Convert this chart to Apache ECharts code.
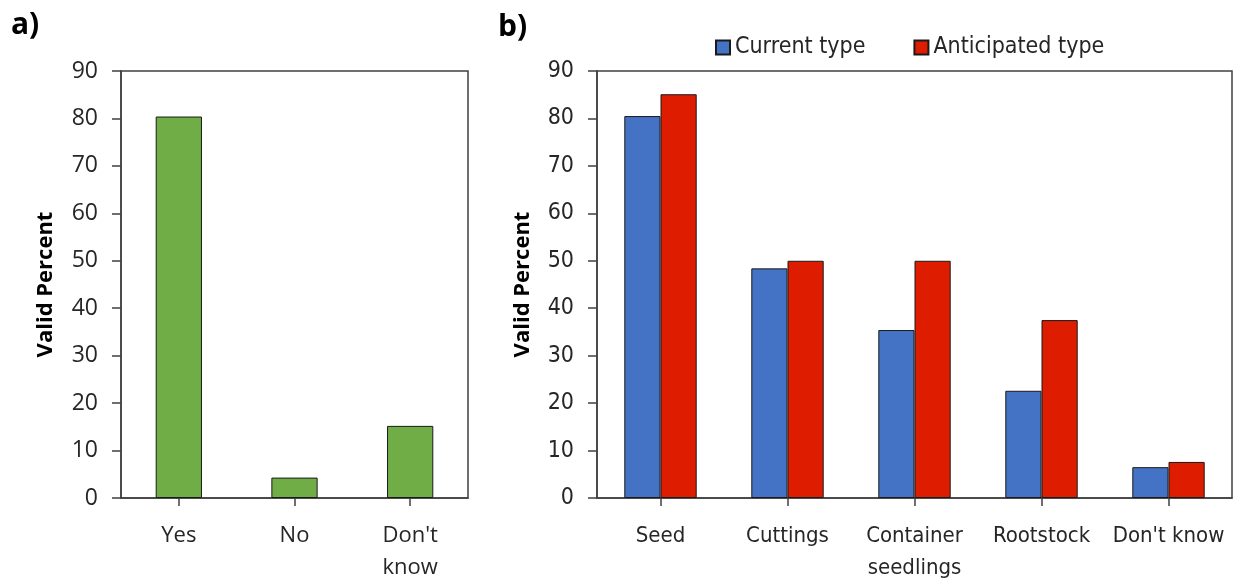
<!DOCTYPE html>
<html><head><meta charset="utf-8">
<script src="https://cdn.jsdelivr.net/npm/echarts@6/dist/echarts.min.js"></script>
<style>html,body{margin:0;padding:0;background:#fff}#c{width:1241px;height:584px}</style>
</head><body><div id="c"></div>
<script>
const catsA = ['Yes', 'No', "Don't\nknow"];
const valsA = [80.4, 4.3, 15.2];
const catsB = ['Seed', 'Cuttings', 'Container\nseedlings', 'Rootstock', "Don't know"];
const currentType = [80.5, 48.4, 35.4, 22.6, 6.5];
const anticipatedType = [85.1, 50.0, 50.0, 37.5, 7.6];
const seriesNames = ['Current type', 'Anticipated type'];
const yTicks = [0, 90, 10];

const chart = echarts.init(document.getElementById('c'));
const F = 'Open Sans, Noto Sans, sans-serif';
const FN = 'Liberation Sans Narrow, DejaVu Sans Condensed, Open Sans, sans-serif';
const txt = '#262626';
const axisCol = '#404040';
function yAxis(gi, gap, font) {
  return {
    gridIndex: gi, type: 'value', min: yTicks[0], max: yTicks[1], interval: yTicks[2],
    name: 'Valid Percent', nameLocation: 'middle', nameGap: gap, nameRotate: 90,
    nameTextStyle: {fontFamily: F, fontWeight: 'bold', fontSize: 22, color: '#000'},
    axisLine: {show: true, lineStyle: {color: axisCol, width: 1.5}},
    axisTick: {show: true, inside: false, length: 9, lineStyle: {color: axisCol, width: 1.5}},
    axisLabel: {fontFamily: font, fontSize: 23, color: txt, margin: 23},
    splitLine: {show: false}
  };
}
function xAxis(gi, data, font, lh) {
  return {
    gridIndex: gi, type: 'category', data: data,
    axisLine: {show: true, lineStyle: {color: axisCol, width: 1.5}},
    axisTick: {show: true, alignWithLabel: true, length: 8, lineStyle: {color: axisCol, width: 1.5}},
    axisLabel: {fontFamily: font, fontSize: 22, color: txt, margin: 22, lineHeight: lh, interval: 0}
  };
}
chart.setOption({
  animation: false,
  graphic: [
    {type: 'text', left: 11, top: 10, style: {text: 'a)', font: 'bold 30px ' + F, fill: '#000'}},
    {type: 'text', left: 498, top: 12, style: {text: 'b)', font: 'bold 30px ' + F, fill: '#000'}}
  ],
  legend: {
    data: seriesNames, left: 710, top: 31, itemWidth: 14, itemHeight: 14, itemGap: 48,
    icon: 'rect',
    textStyle: {fontFamily: FN, fontSize: 23, color: txt, padding: [0, 0, 0, 0]}
  },
  grid: [
    {left: 121, right: 773, top: 71, bottom: 83, show: true, borderColor: axisCol, borderWidth: 1.5, backgroundColor: 'transparent'},
    {left: 597, right: 9, top: 71, bottom: 80, show: true, borderColor: axisCol, borderWidth: 1.5, backgroundColor: 'transparent'}
  ],
  xAxis: [xAxis(0, catsA, F, 32), xAxis(1, catsB, FN, 32)],
  yAxis: [yAxis(0, 64, F), yAxis(1, 63, FN)],
  series: [
    {type: 'bar', xAxisIndex: 0, yAxisIndex: 0, data: valsA, barCategoryGap: '60%',
     itemStyle: {color: '#70AD47', borderColor: '#1a1a1a', borderWidth: 1}},
    {name: seriesNames[0], type: 'bar', xAxisIndex: 1, yAxisIndex: 1, data: currentType,
     barCategoryGap: '43%', barGap: '0%',
     itemStyle: {color: '#4472C4', borderColor: '#1a1a1a', borderWidth: 1}},
    {name: seriesNames[1], type: 'bar', xAxisIndex: 1, yAxisIndex: 1, data: anticipatedType,
     barCategoryGap: '43%', barGap: '0%',
     itemStyle: {color: '#DD1C00', borderColor: '#1a1a1a', borderWidth: 1}}
  ]
});
</script></body></html>
